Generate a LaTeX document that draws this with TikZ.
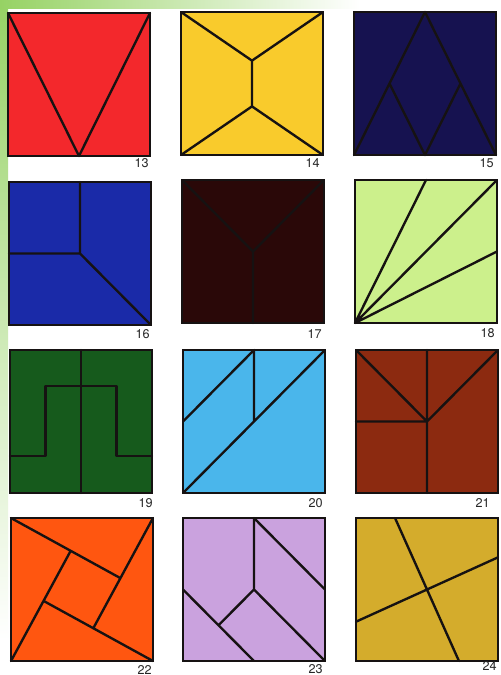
\documentclass[tikz,border=0pt]{standalone}
\usepackage{fontspec}
\setmainfont{TeX Gyre Heros}
\definecolor{cA}{RGB}{243,40,44}
\definecolor{cB}{RGB}{249,203,44}
\definecolor{cC}{RGB}{22,18,80}
\definecolor{cD}{RGB}{26,42,168}
\definecolor{cE}{RGB}{42,8,8}
\definecolor{cF}{RGB}{204,240,140}
\definecolor{cG}{RGB}{22,90,28}
\definecolor{cH}{RGB}{74,182,235}
\definecolor{cI}{RGB}{140,42,16}
\definecolor{cJ}{RGB}{255,86,16}
\definecolor{cK}{RGB}{202,162,222}
\definecolor{cL}{RGB}{212,172,44}
\definecolor{edge}{RGB}{22,18,18}
\definecolor{leaf}{RGB}{150,210,100}
\tikzset{
  cut/.style={draw=edge, line width=1.35pt, line join=round, line cap=round},
  frame/.style={draw=edge, line width=1.5pt, line join=miter},
  lbl/.style={font=\fontsize{7.2}{8}\selectfont, inner sep=0pt, anchor=base east, text=black!85}
}
\newcommand\tile[4]{%
  \begin{scope}[shift={(#1,#2)}, x=2.84cm, y=2.86cm]
    \fill[#3] (0,0) rectangle (1,1);
    #4
    \draw[frame] (0,0) rectangle (1,1);
  \end{scope}}
\begin{document}
\begin{tikzpicture}[x=0.02cm, y=-0.02cm]
  \useasboundingbox (0,0) rectangle (500,675);
  \fill[white] (0,0) rectangle (500,675);
  % green decorative strips
  \shade[top color=leaf, bottom color=white] (0,0) rectangle (8,640);
  \shade[left color=leaf, right color=white] (0,0) rectangle (360,9);
  % row 1
  \tile{8}{156}{cA}{\draw[cut] (0,1) -- (0.5,0) -- (1,1);}
  \tile{181}{155}{cB}{\draw[cut] (0,1) -- (0.5,0.66) -- (1,1) (0.5,0.66) -- (0.5,0.34) (0,0) -- (0.5,0.34) -- (1,0);}
  \tile{354}{155}{cC}{\draw[cut] (0,0) -- (0.5,1) -- (1,0) (0.25,0.5) -- (0.5,0) -- (0.75,0.5);}
  % row 2
  \tile{9}{325}{cD}{\draw[cut] (0.5,1) -- (0.5,0.5) -- (1,0) (0,0.5) -- (0.5,0.5);}
  \tile{182}{323}{cE}{\draw[cut] (0,1) -- (0.5,0.5) -- (1,1) (0.5,0.5) -- (0.5,0);}
  \tile{355}{323}{cF}{\draw[cut] (0.5,1) -- (0,0) -- (1,1) (0,0) -- (1,0.5);}
  % row 3
  \tile{10}{493}{cG}{\draw[cut] (0.5,0) -- (0.5,1) (0,0.26) -- (0.25,0.26) -- (0.25,0.75) -- (0.75,0.75) -- (0.75,0.26) -- (1,0.26);}
  \tile{183}{493}{cH}{\draw[cut] (0,0) -- (1,1) (0,0.5) -- (0.5,1) -- (0.5,0.5);}
  \tile{356}{493}{cI}{\draw[cut] (0.5,0) -- (0.5,1) (0,1) -- (0.5,0.5) -- (1,1) (0,0.5) -- (0.5,0.5);}
  % row 4
  \tile{11}{661}{cJ}{\draw[cut] (0,1) -- (0.77,0.58) (1,1) -- (0.58,0.23) (1,0) -- (0.23,0.42) (0,0) -- (0.42,0.77);}
  \tile{183}{661}{cK}{\draw[cut] (0.5,1) -- (0.5,0.5) -- (1,0) (0.5,1) -- (1,0.5) (0,0.5) -- (0.5,0) (0.5,0.5) -- (0.25,0.25);}
  \tile{356}{661}{cL}{\draw[cut] (0.275,1) -- (0.725,0) (0,0.275) -- (1,0.725);}
  % labels
  \node[lbl] (n13) at (149,168) {13};
  \node[lbl] (n14) at (320,168) {14};
  \node[lbl] (n15) at (494,168) {15};
  \node[lbl] (n16) at (150,338) {16};
  \node[lbl] (n17) at (322,338) {17};
  \node[lbl] (n18) at (495,337) {18};
  \node[lbl] (n19) at (153,507) {19};
  \node[lbl] (n20) at (323,507) {20};
  \node[lbl] (n21) at (490,507) {21};
  \node[lbl] (n22) at (152,674) {22};
  \node[lbl] (n23) at (323,673) {23};
  \node[lbl] (n24) at (497,670) {24};
\end{tikzpicture}
\end{document}
